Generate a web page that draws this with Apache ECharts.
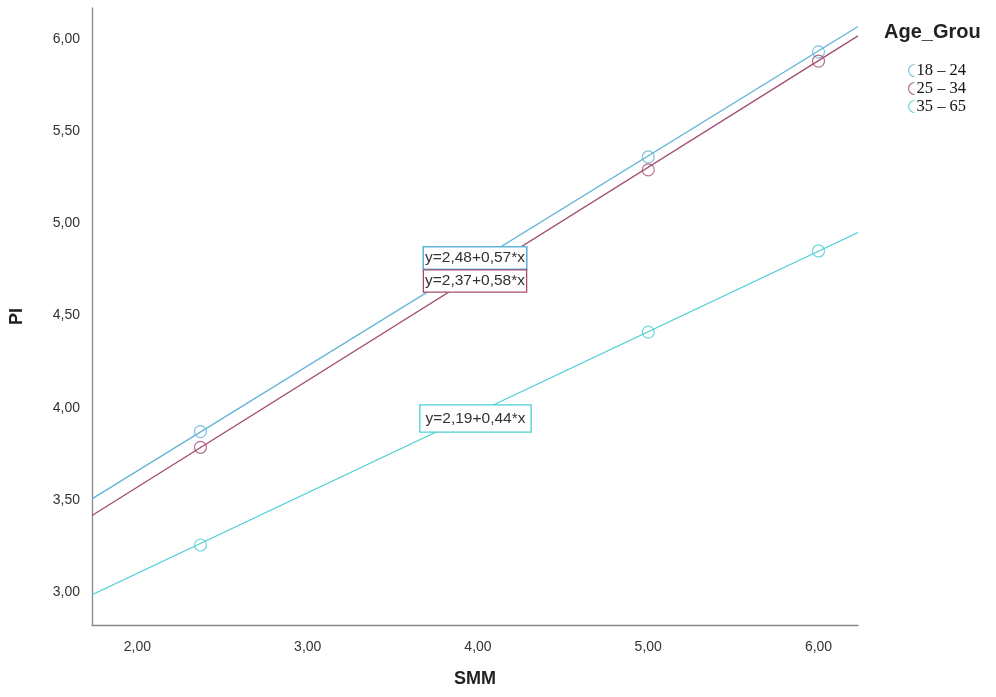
<!DOCTYPE html>
<html>
<head>
<meta charset="utf-8">
<script src="https://cdn.jsdelivr.net/npm/echarts@6/dist/echarts.min.js"></script>
<style>
  html, body { margin: 0; padding: 0; background: #fff; }
  #chart { width: 996px; height: 697px; }
</style>
</head>
<body>
<div id="chart"></div>
<script>
// groups and their colours
const groups = ['18 – 24', '25 – 34', '35 – 65'];
const colors = ['#62b3d8', '#a24c72', '#4ccfd3'];

// group means of PI at each SMM level
const smmX = [2.37, 5.0, 6.0];
const piMeans = [
    [3.87, 5.36, 5.93],
    [3.785, 5.29, 5.88],
    [3.255, 4.41, 4.85]
];

// fit lines, read at both ends of the x axis
const fitX = [1.733, 6.232];
const fitY = [
    [3.505, 6.068],
    [3.415, 6.017],
    [2.985, 4.95]
];
const equations = ['y=2,48+0,57*x', 'y=2,37+0,58*x', 'y=2,19+0,44*x'];

function fmt(v) {
    // only label the round ticks, comma decimals like SPSS
    if (Math.abs(v * 2 - Math.round(v * 2)) > 1e-6) return '';
    return v.toFixed(2).replace('.', ',');
}

let myChart = echarts.init(document.getElementById('chart'));

let series = [];
groups.forEach(function (g, i) {
    series.push({
        name: g,
        type: 'scatter',
        symbol: 'circle',
        symbolSize: 12,
        itemStyle: { color: 'transparent', borderColor: colors[i], borderWidth: 1.2 },
        data: smmX.map(function (x, k) { return [x, piMeans[i][k]]; }),
        z: 3
    });
});
groups.forEach(function (g, i) {
    series.push({
        name: g,
        type: 'line',
        showSymbol: false,
        symbol: 'none',
        silent: true,
        lineStyle: { color: colors[i], width: 1.3 },
        data: fitX.map(function (x, k) { return [x, fitY[i][k]]; }),
        z: 2
    });
});

// equation boxes (positions are layout only)
let boxPos = [[475, 258], [475, 281], [475.5, 418.5]];
let boxPad = [[3, 1, 2, 1], [3, 1, 2, 1], [5, 5, 5, 5]];
let graphic = equations.map(function (t, i) {
    return {
        type: 'text',
        x: boxPos[i][0],
        y: boxPos[i][1],
        z: 10,
        style: {
            text: t,
            align: 'center',
            verticalAlign: 'middle',
            font: '15.5px "Liberation Sans", Arial, sans-serif',
            fill: '#333',
            backgroundColor: '#fff',
            borderColor: colors[i],
            borderWidth: i === 0 ? 1.6 : 1.3,
            padding: boxPad[i]
        }
    };
});

let option = {
    backgroundColor: '#fff',
    animation: false,
    title: {
        text: 'Age_Grou',
        left: 879,
        top: 17,
        textStyle: {
            fontFamily: '"Liberation Sans", Arial, sans-serif',
            fontWeight: 'bold',
            fontSize: 20,
            color: '#222'
        }
    },
    legend: {
        data: groups,
        orient: 'vertical',
        left: 903,
        top: 57,
        itemGap: 1,
        itemWidth: 6,
        itemHeight: 14,
        icon: 'path://M10,0 A10,10 0 0,0 10,20',
        itemStyle: { color: 'transparent', borderColor: 'inherit', borderWidth: 1.2 },
        textStyle: {
            fontFamily: '"Liberation Serif", "Times New Roman", serif',
            fontSize: 16.5,
            color: '#111',
            padding: [0, 0, 0, -3]
        }
    },
    grid: { left: 92, right: 138, top: 8, bottom: 72 },
    xAxis: {
        type: 'value',
        min: 1.733,
        max: 6.232,
        minInterval: 1,
        maxInterval: 1,
        name: 'SMM',
        nameLocation: 'middle',
        nameGap: 45,
        nameTextStyle: {
            fontFamily: '"Liberation Sans", Arial, sans-serif',
            fontWeight: 'bold',
            fontSize: 18,
            color: '#222'
        },
        axisLine: { lineStyle: { color: '#888', width: 1.3 } },
        axisTick: { show: false },
        splitLine: { show: false },
        axisLabel: {
            formatter: fmt,
            showMinLabel: false,
            showMaxLabel: false,
            margin: 15,
            color: '#333',
            fontSize: 14,
            fontFamily: '"Liberation Sans", Arial, sans-serif'
        }
    },
    yAxis: {
        type: 'value',
        min: 2.821,
        max: 6.168,
        minInterval: 0.5,
        maxInterval: 0.5,
        name: 'PI',
        nameLocation: 'middle',
        nameGap: 66,
        nameTextStyle: {
            fontFamily: '"Liberation Sans", Arial, sans-serif',
            fontWeight: 'bold',
            fontSize: 18,
            color: '#222'
        },
        axisLine: { show: true, lineStyle: { color: '#888', width: 1.3 } },
        axisTick: { show: false },
        splitLine: { show: false },
        axisLabel: {
            formatter: fmt,
            showMinLabel: false,
            showMaxLabel: false,
            margin: 12,
            color: '#333',
            fontSize: 14,
            fontFamily: '"Liberation Sans", Arial, sans-serif'
        }
    },
    graphic: graphic,
    series: series
};
myChart.setOption(option);
</script>
</body>
</html>
